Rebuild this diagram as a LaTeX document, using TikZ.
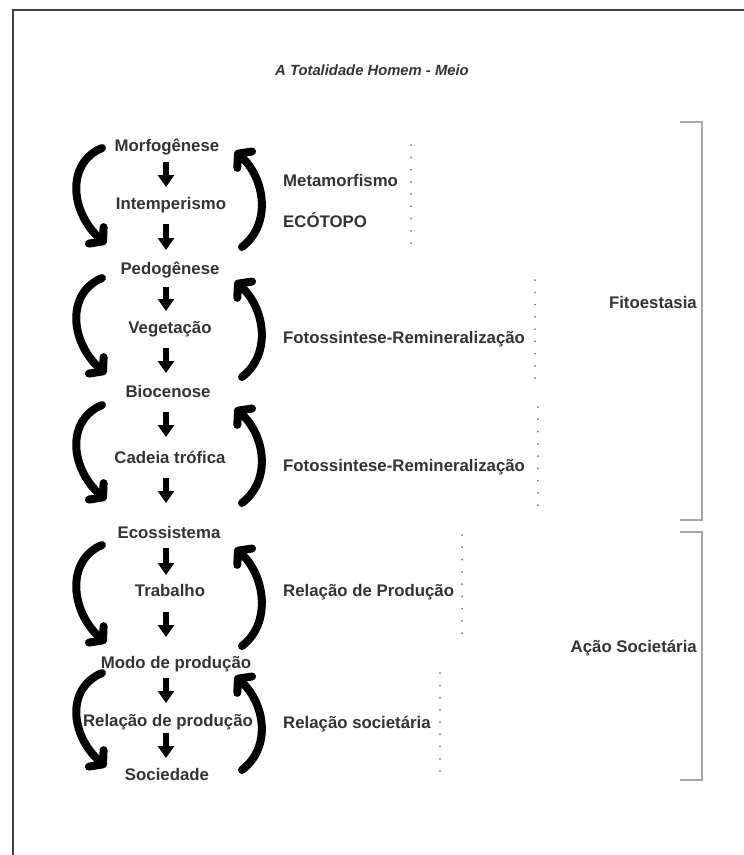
\documentclass[tikz,border=0pt]{standalone}
\usepackage{fontspec}
\setmainfont{Liberation Sans}
\usetikzlibrary{arrows.meta,calc}
\begin{document}
\begin{tikzpicture}[x=1pt,y=-1pt,
  lab/.style={font=\bfseries\fontsize{16.8}{19}\selectfont, text=black!80, inner sep=0pt, anchor=base},
  labw/.style={lab, anchor=base west},
  labe/.style={lab, anchor=base east},
  titlestyle/.style={font=\bfseries\itshape\fontsize{14.8}{17}\selectfont, text=black!80, inner sep=0pt, anchor=base},
  frame/.style={draw=black!75, line width=2.5pt},
  dn/.style={draw=black, line width=5.2pt, -{Triangle[length=12pt,width=16pt]}},
  cyc/.style={draw=black, line width=8pt, line cap=round, -{Straight Barb[length=9pt,width=22pt,round]}},
  dots/.style={draw=black!55, line width=2pt, line cap=round, dash pattern=on 0pt off 12.25pt},
  brk/.style={draw=black!35, line width=1.3pt}
]
\useasboundingbox (0,0) rectangle (744,855);
\draw[frame] (13,856) -- (13,10) -- (745,10);

\node[titlestyle] (title) at (372,75) {A Totalidade Homem - Meio};

% left column
\node[lab] (m1) at (167,151) {Morfogênese};
\node[lab] (m2) at (171,209) {Intemperismo};
\node[lab] (m3) at (170,274) {Pedogênese};
\node[lab] (m4) at (170,333) {Vegetação};
\node[lab] (m5) at (168,397) {Biocenose};
\node[lab] (m6) at (170,463) {Cadeia trófica};
\node[lab] (m7) at (169,538) {Ecossistema};
\node[lab] (m8) at (170,596) {Trabalho};
\node[lab] (m9) at (176,668) {Modo de produção};
\node[lab] (m10) at (168,726) {Relação de produção};
\node[lab] (m11) at (167,780) {Sociedade};

\coordinate (ax) at (166,0);
\foreach \a/\b/\s/\e in {m1/m2/11/-22,m2/m3/15/-24,m3/m4/13/-22,m4/m5/15/-24,m5/m6/15/-26,
  m6/m7/15/-35,m7/m8/10/-21,m8/m9/16/-31,m9/m10/10/-23,m10/m11/7/-22}{
  \draw[dn] ($(\a.base -| ax)+(0,\s)$) -- ($(\b.base -| ax)+(0,\e)$);
}

% cycle arrows
\foreach \a/\b/\n in {148/244/1,278/374/2,405/500/3,545/643/4,673/767/5}{
  \coordinate (ls\n) at (102,\a);
  \coordinate (le\n) at (106,\b);
  \coordinate (rs\n) at (242,\b+3);
  \coordinate (re\n) at (235,\a+3);
  \draw[cyc] (ls\n) .. controls (66,\a+15) and (70,\b-32) .. (le\n);
  \draw[cyc] (rs\n) .. controls (272,\b-20) and (265,\a+30) .. (re\n);
}

% middle labels
\node[labw] (t1) at (283,186) {Metamorfismo};
\node[labw] (t2) at (283,227) {ECÓTOPO};
\node[labw] (t3) at (283,343) {Fotossintese-Remineralização};
\node[labw] (t4) at (283,471) {Fotossintese-Remineralização};
\node[labw] (t5) at (283,596) {Relação de Produção};
\node[labw] (t6) at (283,728) {Relação societária};

% dotted separators
\draw[dots] (411,145) -- (411,243.1);
\draw[dots] (535,280) -- (535,378.1);
\draw[dots] (538,407) -- (538,505.1);
\draw[dots] (462,535) -- (462,633.1);
\draw[dots] (440,673) -- (440,771.1);

% brackets
\draw[brk] (680,122) -- (702,122) -- (702,520) -- (680,520);
\draw[brk] (680,532) -- (702,532) -- (702,780) -- (680,780);
\node[labe] (f1) at (697,308) {Fitoestasia};
\node[labe] (f2) at (697,652) {Ação Societária};
\end{tikzpicture}
\end{document}
